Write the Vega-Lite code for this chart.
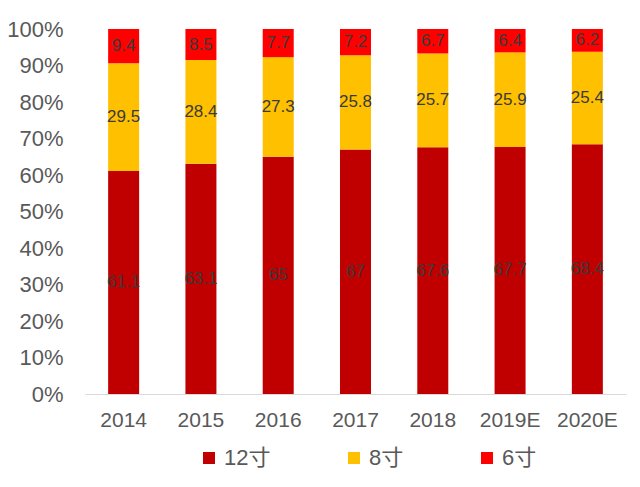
{
  "$schema": "https://vega.github.io/schema/vega-lite/v6.json",
  "width": 541,
  "height": 365,
  "autosize": {"type": "none"},
  "padding": {"left": 85, "top": 29, "right": 14, "bottom": 93},
  "background": "white",
  "config": {
    "view": {"stroke": null},
    "font": "Liberation Sans, Noto Sans CJK SC",
    "axis": {"labelFont": "Liberation Sans", "labelColor": "#595959", "labelFontSize": 21}
  },
  "data": {
    "values": [
      {"year": "2014", "size": "12寸", "o": 1, "v": 61.1},
      {"year": "2014", "size": "8寸", "o": 2, "v": 29.5},
      {"year": "2014", "size": "6寸", "o": 3, "v": 9.4},
      {"year": "2015", "size": "12寸", "o": 1, "v": 63.1},
      {"year": "2015", "size": "8寸", "o": 2, "v": 28.4},
      {"year": "2015", "size": "6寸", "o": 3, "v": 8.5},
      {"year": "2016", "size": "12寸", "o": 1, "v": 65},
      {"year": "2016", "size": "8寸", "o": 2, "v": 27.3},
      {"year": "2016", "size": "6寸", "o": 3, "v": 7.7},
      {"year": "2017", "size": "12寸", "o": 1, "v": 67},
      {"year": "2017", "size": "8寸", "o": 2, "v": 25.8},
      {"year": "2017", "size": "6寸", "o": 3, "v": 7.2},
      {"year": "2018", "size": "12寸", "o": 1, "v": 67.6},
      {"year": "2018", "size": "8寸", "o": 2, "v": 25.7},
      {"year": "2018", "size": "6寸", "o": 3, "v": 6.7},
      {"year": "2019E", "size": "12寸", "o": 1, "v": 67.7},
      {"year": "2019E", "size": "8寸", "o": 2, "v": 25.9},
      {"year": "2019E", "size": "6寸", "o": 3, "v": 6.4},
      {"year": "2020E", "size": "12寸", "o": 1, "v": 68.4},
      {"year": "2020E", "size": "8寸", "o": 2, "v": 25.4},
      {"year": "2020E", "size": "6寸", "o": 3, "v": 6.2}
    ]
  },
  "encoding": {
    "x": {
      "field": "year",
      "type": "ordinal",
      "title": null,
      "scale": {"paddingInner": 0.6, "paddingOuter": 0.3},
      "axis": {
        "labelAngle": 0,
        "ticks": false,
        "domainColor": "#d9d9d9",
        "labelPadding": 15
      }
    },
    "y": {
      "field": "v",
      "type": "quantitative",
      "stack": "zero",
      "scale": {"domain": [0, 100]},
      "title": null,
      "axis": {
        "values": [0, 10, 20, 30, 40, 50, 60, 70, 80, 90, 100],
        "labelExpr": "datum.value + '%'",
        "labelFontSize": 22,
        "grid": false,
        "domain": false,
        "ticks": false,
        "labelPadding": 22
      }
    },
    "order": {"field": "o"}
  },
  "layer": [
    {
      "mark": {"type": "bar", "size": 31},
      "encoding": {
        "color": {
          "field": "size",
          "type": "nominal",
          "sort": ["12寸", "8寸", "6寸"],
          "scale": {"domain": ["12寸", "8寸", "6寸"], "range": ["#C00000", "#FFC000", "#FF0000"]},
          "legend": {
            "title": null,
            "orient": "none",
            "direction": "horizontal",
            "legendX": 113,
            "legendY": 418,
            "symbolType": "square",
            "symbolSize": 144,
            "symbolStrokeWidth": 0,
            "labelFontSize": 22,
            "labelColor": "#595959",
            "labelFont": "Liberation Sans, Noto Sans CJK SC",
            "gridAlign": "none",
            "columnPadding": 72,
            "labelOffset": 4
          }
        }
      }
    },
    {
      "mark": {"type": "text", "fontSize": 17, "color": "#3a3a3a", "font": "Liberation Sans"},
      "encoding": {
        "y": {"field": "v", "type": "quantitative", "stack": "zero", "bandPosition": 0.5},
        "text": {"field": "v", "type": "quantitative"}
      }
    }
  ]
}
